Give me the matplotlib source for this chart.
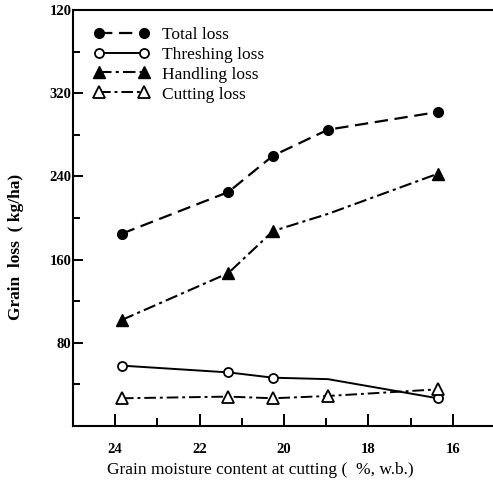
import numpy as np
import matplotlib.pyplot as plt
from matplotlib.ticker import FixedLocator

plt.rcParams['font.family'] = ['Liberation Serif', 'DejaVu Serif']

# moisture content at cutting (%, w.b.)
moisture = [23.84, 21.32, 20.26, 18.96, 16.36]

# grain loss (kg/ha)
total_loss = [185, 225, 260, 285, 302]
threshing_loss = [58, 51.5, 46.4, 45, 26.6]
handling_loss = [102, 147, 187.5, 204, 242.6]
cutting_loss = [26.6, 28.2, 26.6, 28.8, 35.2]

y_ticks = [80, 160, 240, 320, 400]
y_labels = ['80', '160', '240', '320', '120']
x_ticks = [24, 22, 20, 18, 16]

fig = plt.figure(figsize=(4.93, 4.84), dpi=100)
ax = fig.add_axes([0.148, 0.12, 0.852, 0.859])

ax.plot(moisture, total_loss, color='black', lw=1.6, ls=(0, (6, 3)),
        marker='o', ms=7, mfc='black', mec='black', label='Total loss')
ax.plot(moisture, threshing_loss, color='black', lw=1.4, ls='-',
        marker='o', ms=6.5, mfc='white', mec='black', mew=1.3,
        markevery=[0, 1, 2, 4], label='Threshing loss')
ax.plot(moisture, handling_loss, color='black', lw=1.5, ls=(0, (6, 2, 1.5, 2)),
        marker='^', ms=8, mfc='black', mec='black',
        markevery=[0, 1, 2, 4], label='Handling loss')
ax.plot(moisture, cutting_loss, color='black', lw=1.4, ls=(0, (6, 2, 1.5, 2)),
        marker='^', ms=8, mfc='white', mec='black', mew=1.3,
        label='Cutting loss')

ax.set_xlim(25.0, 15.05)
ax.set_ylim(0, 400)

ax.set_xticks(x_ticks)
ax.set_xticklabels([str(v) for v in x_ticks], fontsize=10.5, fontweight='bold')
ax.xaxis.set_minor_locator(FixedLocator([23, 21, 19, 17]))
ax.set_yticks(y_ticks)
ax.set_yticklabels(y_labels, fontsize=10.5, fontweight='bold')
ax.yaxis.set_minor_locator(FixedLocator([40, 120, 200, 280, 360]))

ax.tick_params(axis='x', which='major', direction='in', length=9, width=1.4, pad=12)
ax.tick_params(axis='x', which='minor', direction='in', length=6, width=1.4)
ax.tick_params(axis='y', which='major', direction='in', length=7, width=1.4, pad=1)
ax.tick_params(axis='y', which='minor', direction='in', length=5, width=1.4)

for side in ['left', 'bottom', 'top']:
    ax.spines[side].set_linewidth(1.5)
ax.spines['right'].set_visible(False)

ax.set_xlabel('Grain moisture content at cutting (  %, w.b.)', fontsize=12.5, va='center')
ax.xaxis.set_label_coords(0.445, -0.106)
ax.set_ylabel('Grain  loss  ( kg/ha)', fontsize=12.5, fontweight='bold', va='center')
ax.yaxis.set_label_coords(-0.136, 0.43)

ax.legend(loc='upper left', bbox_to_anchor=(0.02, 0.99), frameon=False,
          fontsize=12.5, numpoints=2, handlelength=3.2, handletextpad=0.75,
          labelspacing=0.22, borderpad=0.2)

fig.savefig('out.png', dpi=100)
